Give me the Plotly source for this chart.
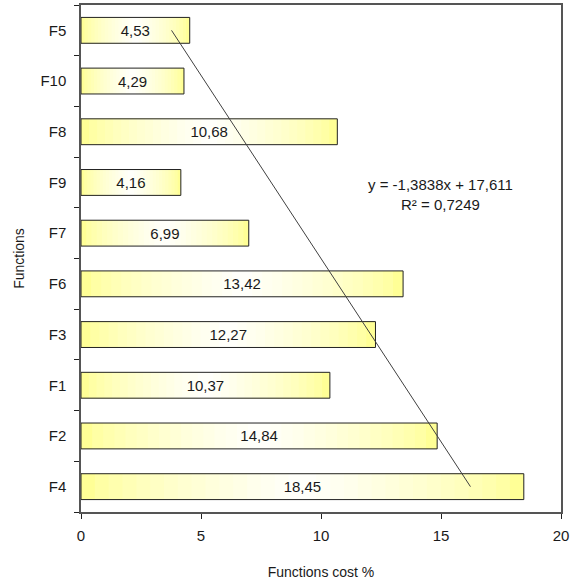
import numpy as np
import plotly.graph_objects as go

# Function cost shares, listed from the bottom bar to the top bar
functions = ["F4", "F2", "F1", "F3", "F6", "F7", "F9", "F8", "F10", "F5"]
cost_pct = [18.45, 14.84, 10.37, 12.27, 13.42, 6.99, 4.16, 10.68, 4.29, 4.53]
x_ticks = [0, 5, 10, 15, 20]
trend_label = "y = -1,3838x + 17,611<br>R² = 0,7249"

FONT = "Liberation Sans, Arial, sans-serif"
TEXT_COLOR = "#1a1a1a"

vals = np.array(cost_pct)
labels = [f"{v:.2f}".replace(".", ",") for v in cost_pct]

# linear trend over category position (1..n), as a spreadsheet trendline would
pos = np.arange(1, len(vals) + 1)
slope, intercept = np.polyfit(pos, vals, 1)
fitted = (slope * pos + intercept).tolist()

fig = go.Figure()

# horizontal yellow -> white -> yellow gradient built from nested bars
n_layers = 16
edge = np.array([255, 255, 150])
centre = np.array([255, 255, 250])
for k in range(n_layers):
    t = 0.5 * k / n_layers
    mix = (k / (n_layers - 1)) ** 0.7
    c = edge + (centre - edge) * mix
    starts = [v * t for v in cost_pct]
    widths = [v * (1 - 2 * t) for v in cost_pct]
    fig.add_trace(go.Bar(
        y=functions, x=widths, base=starts,
        orientation="h",
        marker=dict(color=f"rgb({c[0]:.0f},{c[1]:.0f},{c[2]:.0f})", line=dict(width=0)),
        hoverinfo="skip", showlegend=False,
    ))

# outline and value labels
fig.add_trace(go.Bar(
    y=functions, x=cost_pct, orientation="h",
    marker=dict(color="rgba(0,0,0,0)", line=dict(color="#222222", width=1)),
    text=labels, textposition="inside", insidetextanchor="middle",
    constraintext="none",
    textfont=dict(family=FONT, size=15, color=TEXT_COLOR),
    showlegend=False,
))

# trendline
fig.add_trace(go.Scatter(
    y=functions, x=fitted, mode="lines",
    line=dict(color="#404040", width=1), showlegend=False, hoverinfo="skip",
))

fig.add_annotation(
    x=14.96, y=5.77, xref="x", yref="y", text=trend_label, showarrow=False,
    font=dict(family=FONT, size=15, color=TEXT_COLOR), align="center",
)

fig.update_layout(
    width=575, height=581,
    margin=dict(l=81, r=14, t=3, b=69),
    paper_bgcolor="white", plot_bgcolor="white",
    barmode="overlay", bargap=0.49,
    font=dict(family=FONT, size=15, color=TEXT_COLOR),
)
fig.update_xaxes(
    range=[0, 20], tickvals=x_ticks, ticks="outside", ticklen=5,
    tickcolor="#222222", showgrid=False, zeroline=False,
    showline=True, linecolor="#555555", linewidth=1.5, mirror=True,
    tickfont=dict(size=15), ticklabelstandoff=4,
    title=dict(text="Functions cost %", font=dict(size=14), standoff=24),
)
fig.update_yaxes(
    type="category", categoryorder="array", categoryarray=functions,
    range=[-0.5, len(functions) - 0.5],
    ticks="outside", ticklen=5, tickson="boundaries", tickcolor="#222222",
    showgrid=False, zeroline=False,
    showline=True, linecolor="#555555", linewidth=1.5, mirror=True,
    tickfont=dict(size=15), ticklabelstandoff=10,
    title=dict(text="Functions", font=dict(size=14), standoff=12),
)

fig.write_html("out.html")
